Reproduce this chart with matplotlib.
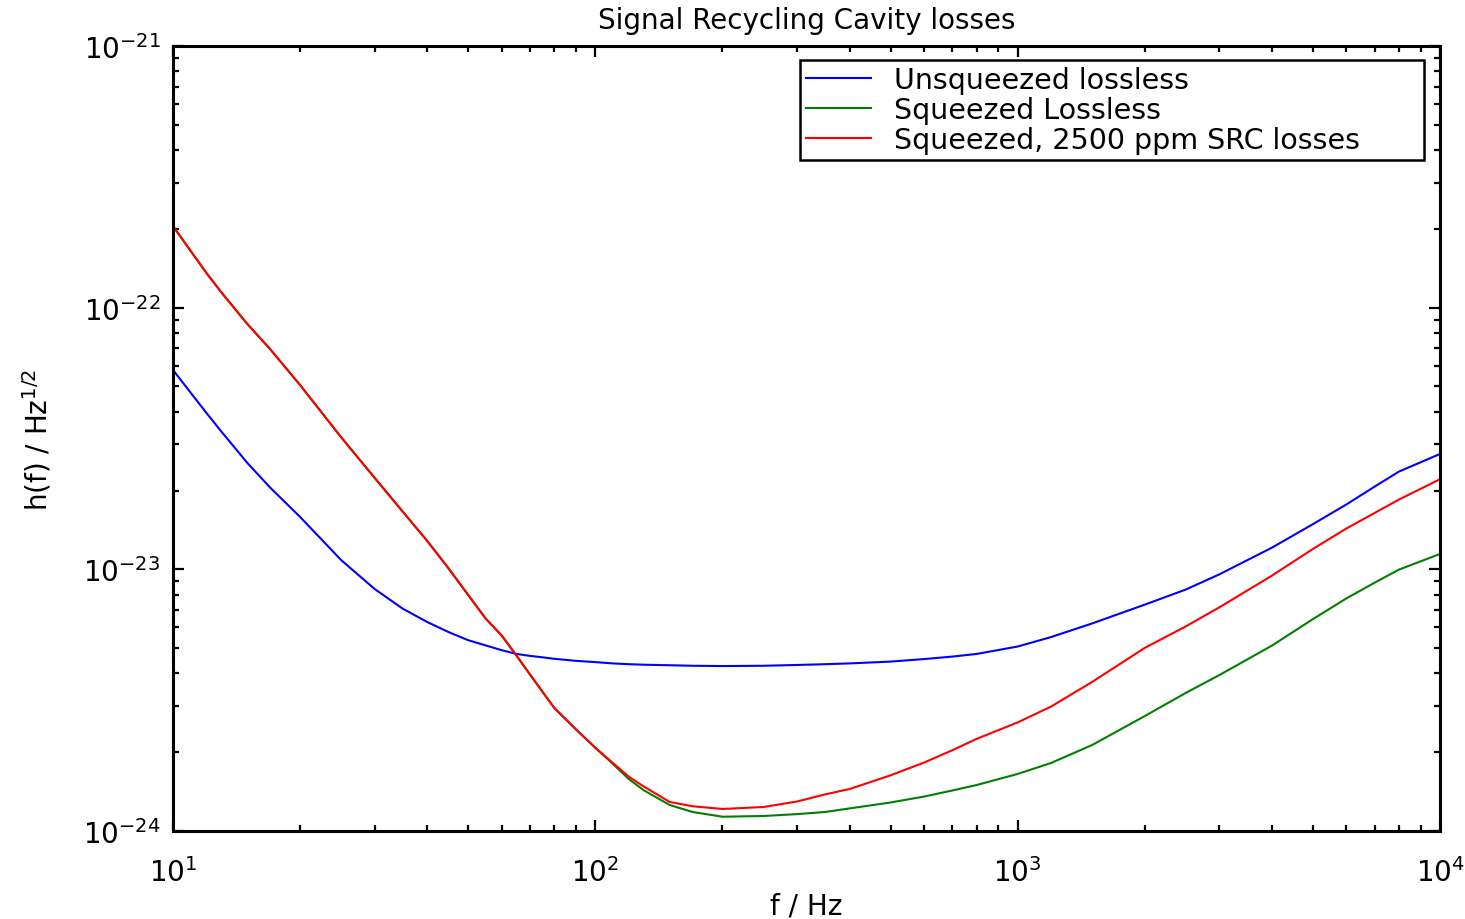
import numpy as np
import matplotlib
matplotlib.use("Agg")
import matplotlib.pyplot as plt
from matplotlib.ticker import LogLocator, NullFormatter

# values (frequency in Hz, strain ASD in 1/sqrt(Hz))
freq = [10, 11, 12, 13, 15, 17, 20, 25, 30, 35, 40, 45, 50, 55, 60, 65, 70,
        75, 80, 90, 100, 110, 120, 130, 150, 170, 200, 250, 300, 350, 400,
        500, 600, 700, 800, 1000, 1200, 1500, 2000, 2500, 3000, 4000, 5000,
        6000, 7000, 8000, 10000]

unsqueezed = [5.78e-23, 4.74e-23, 3.96e-23, 3.37e-23, 2.55e-23, 2.05e-23,
              1.585e-23, 1.086e-23, 8.42e-24, 7.07e-24, 6.29e-24, 5.75e-24,
              5.36e-24, 5.12e-24, 4.91e-24, 4.75e-24, 4.67e-24, 4.61e-24,
              4.55e-24, 4.47e-24, 4.42e-24, 4.37e-24, 4.34e-24, 4.32e-24,
              4.30e-24, 4.28e-24, 4.27e-24, 4.28e-24, 4.31e-24, 4.34e-24,
              4.37e-24, 4.44e-24, 4.54e-24, 4.64e-24, 4.75e-24, 5.07e-24,
              5.51e-24, 6.21e-24, 7.33e-24, 8.37e-24, 9.56e-24, 1.21e-23,
              1.488e-23, 1.769e-23, 2.07e-23, 2.365e-23, 2.76e-23]

squeezed = [2.05e-22, 1.651e-22, 1.357e-22, 1.147e-22, 8.66e-23, 6.93e-23,
            5.06e-23, 3.20e-23, 2.24e-23, 1.661e-23, 1.283e-23, 1.005e-23,
            7.98e-24, 6.48e-24, 5.59e-24, 4.69e-24, 3.97e-24, 3.40e-24,
            2.95e-24, 2.445e-24, 2.08e-24, 1.805e-24, 1.58e-24, 1.434e-24,
            1.257e-24, 1.182e-24, 1.134e-24, 1.141e-24, 1.160e-24, 1.182e-24,
            1.220e-24, 1.285e-24, 1.354e-24, 1.428e-24, 1.499e-24, 1.652e-24,
            1.82e-24, 2.13e-24, 2.75e-24, 3.37e-24, 3.94e-24, 5.11e-24,
            6.45e-24, 7.74e-24, 8.89e-24, 9.98e-24, 1.145e-23]

squeezed_lossy = [2.05e-22, 1.651e-22, 1.357e-22, 1.147e-22, 8.66e-23,
                  6.93e-23, 5.06e-23, 3.20e-23, 2.24e-23, 1.661e-23,
                  1.283e-23, 1.005e-23, 7.98e-24, 6.48e-24, 5.59e-24,
                  4.69e-24, 3.97e-24, 3.40e-24, 2.95e-24, 2.445e-24,
                  2.08e-24, 1.821e-24, 1.613e-24, 1.482e-24, 1.291e-24,
                  1.243e-24, 1.214e-24, 1.235e-24, 1.296e-24, 1.380e-24,
                  1.447e-24, 1.632e-24, 1.825e-24, 2.035e-24, 2.25e-24,
                  2.60e-24, 2.99e-24, 3.71e-24, 5.01e-24, 6.05e-24, 7.15e-24,
                  9.46e-24, 1.196e-23, 1.432e-23, 1.642e-23, 1.849e-23,
                  2.21e-23]

labels = ["Unsqueezed lossless", "Squeezed Lossless", "Squeezed, 2500 ppm SRC losses"]
xticks = [10, 100, 1000, 10000]
xticklabels = ["$10^{1}$", "$10^{2}$", "$10^{3}$", "$10^{4}$"]
yticks = [1e-24, 1e-23, 1e-22, 1e-21]
yticklabels = ["$10^{-24}$", "$10^{-23}$", "$10^{-22}$", "$10^{-21}$"]

plt.rcParams["font.family"] = "DejaVu Sans"
plt.rcParams["mathtext.default"] = "regular"
fs = 20

fig = plt.figure(figsize=(14.65, 9.2), dpi=100)
ax = fig.add_axes([173 / 1465, 88 / 920, 1267 / 1465, 785 / 920])

ax.plot(freq, unsqueezed, color="#0000ff", lw=1.5, label=labels[0])
ax.plot(freq, squeezed, color="#008000", lw=1.5, label=labels[1])
ax.plot(freq, squeezed_lossy, color="#ff0000", lw=1.5, label=labels[2])

ax.set_xscale("log")
ax.set_yscale("log")
ax.set_xlim(10, 1e4)
ax.set_ylim(1e-24, 1e-21)

ax.set_xticks(xticks)
ax.set_xticklabels(xticklabels)
ax.set_yticks(yticks)
ax.set_yticklabels(yticklabels)
ax.xaxis.set_minor_locator(LogLocator(base=10, subs=np.arange(2, 10), numticks=20))
ax.yaxis.set_minor_locator(LogLocator(base=10, subs=np.arange(2, 10), numticks=20))
ax.xaxis.set_minor_formatter(NullFormatter())
ax.yaxis.set_minor_formatter(NullFormatter())

ax.tick_params(which="both", direction="in", top=True, right=True,
               width=1.6, labelsize=fs)
ax.tick_params(which="major", length=8)
ax.tick_params(which="minor", length=4)
ax.tick_params(axis="x", pad=19)
ax.tick_params(axis="y", pad=9)

for s in ax.spines.values():
    s.set_linewidth(2.2)

ax.set_title("Signal Recycling Cavity losses", fontsize=fs, pad=13)
ax.set_xlabel("f / Hz", fontsize=fs)
ax.xaxis.set_label_coords(0.5, -0.077)
ax.set_ylabel(r"h(f) / Hz$^{1/2}$", fontsize=fs)
ax.yaxis.set_label_coords(-0.094, 0.5)

leg = ax.legend(loc="upper right", bbox_to_anchor=(0.4949, 0.8535, 0.4925, 0.1287),
                mode="expand", borderaxespad=0, fontsize=20.5, handlelength=2.3,
                handletextpad=0.8, labelspacing=0.08, borderpad=0.2,
                fancybox=False, framealpha=1, edgecolor="black")
leg.get_frame().set_linewidth(1.8)

fig.savefig("out.png", dpi=100)
